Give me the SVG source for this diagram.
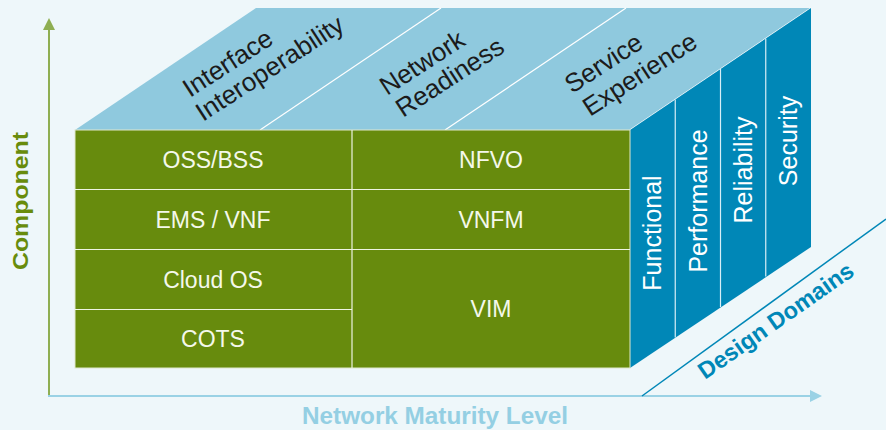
<svg xmlns="http://www.w3.org/2000/svg" width="886" height="430" viewBox="0 0 886 430">
  <defs>
    <style>
      .bg { fill: #eef7fa; }
      .front { fill: #678b0d; stroke: #dfe8cc; stroke-width: 1; }
      .cellline { stroke: #eef4e2; stroke-width: 1.2; fill: none; }
      .top { fill: #8fc9de; }
      .topline { stroke: #ffffff; stroke-width: 1.2; fill: none; }
      .side { fill: #0087b7; }
      .sideline { stroke: #d6eef7; stroke-width: 1.2; fill: none; }
      .cell { font-family: "Liberation Sans", Arial, sans-serif; font-size: 23px; fill: #f4f8ea; text-anchor: middle; }
      .dom { font-family: "Liberation Sans", Arial, sans-serif; font-size: 25px; fill: #ffffff; text-anchor: middle; }
      .pillar { font-family: "Liberation Sans", Arial, sans-serif; font-size: 26px; fill: #1b1b1b; }
      .axislbl { font-family: "Liberation Sans", Arial, sans-serif; font-weight: bold; }
    </style>
    <marker id="arrowGreen" viewBox="0 0 12 12" refX="10" refY="6" markerWidth="12" markerHeight="12" markerUnits="userSpaceOnUse" orient="auto">
      <path d="M0,0 L12,6 L0,12 Z" fill="#8eae52"/>
    </marker>
    <marker id="arrowBlue" viewBox="0 0 12 12" refX="10" refY="6" markerWidth="12" markerHeight="12" markerUnits="userSpaceOnUse" orient="auto">
      <path d="M0,0 L12,6 L0,12 Z" fill="#9ad2e5"/>
    </marker>
  </defs>

  <rect class="bg" x="0" y="0" width="886" height="430"/>

  <!-- axes -->
  <g id="axes">
    <line x1="49" y1="396" x2="49" y2="20" stroke="#8eae52" stroke-width="2" marker-end="url(#arrowGreen)"/>
    <line x1="48" y1="396" x2="820" y2="396" stroke="#9ad2e5" stroke-width="2" marker-end="url(#arrowBlue)"/>
    <line x1="642" y1="396" x2="886" y2="219" stroke="#0087b7" stroke-width="1.5"/>
  </g>

  <!-- axis titles -->
  <text class="axislbl" transform="translate(20,201) rotate(-90)" text-anchor="middle" dy="0.35em" font-size="22" fill="#688c0c" textLength="138" lengthAdjust="spacingAndGlyphs">Component</text>
  <text class="axislbl" x="435" y="424" text-anchor="middle" font-size="24" fill="#94cfe3" textLength="266" lengthAdjust="spacingAndGlyphs">Network Maturity Level</text>
  <text class="axislbl" transform="translate(705,380) rotate(-35)" font-size="23.5" fill="#0087b7">Design Domains</text>

  <!-- top face: pillars -->
  <g id="top-face">
    <polygon class="top" points="75,130 256,8 811,8 630,130"/>
    <line class="topline" x1="260" y1="130" x2="441" y2="8"/>
    <line class="topline" x1="445" y1="130" x2="626" y2="8"/>
    <line class="topline" x1="630" y1="130" x2="811" y2="8"/>
  </g>
  <g id="pillar-interface">
    <text class="pillar" transform="translate(190,98) rotate(-33)">Interface</text>
    <text class="pillar" transform="translate(203,122) rotate(-33)">Interoperability</text>
  </g>
  <g id="pillar-network">
    <text class="pillar" transform="translate(387,96) rotate(-33)">Network</text>
    <text class="pillar" transform="translate(403,118) rotate(-33)">Readiness</text>
  </g>
  <g id="pillar-service">
    <text class="pillar" transform="translate(572,94) rotate(-33)">Service</text>
    <text class="pillar" transform="translate(590,117) rotate(-33)">Experience</text>
  </g>

  <!-- right face: design domains -->
  <g id="side-face">
    <polygon class="side" points="630,130 811,8 811,247 630,368"/>
    <line class="sideline" x1="675.25" y1="99.5" x2="675.25" y2="337.5"/>
    <line class="sideline" x1="720.5" y1="69" x2="720.5" y2="307"/>
    <line class="sideline" x1="765.75" y1="38.5" x2="765.75" y2="276.5"/>
  </g>
  <g id="domain-functional"><text class="dom" transform="translate(652.5,233) rotate(-90)" dy="0.35em">Functional</text></g>
  <g id="domain-performance"><text class="dom" transform="translate(697.8,201) rotate(-90)" dy="0.35em">Performance</text></g>
  <g id="domain-reliability"><text class="dom" transform="translate(743.1,170) rotate(-90)" dy="0.35em">Reliability</text></g>
  <g id="domain-security"><text class="dom" transform="translate(788.4,141) rotate(-90)" dy="0.35em">Security</text></g>

  <!-- front face: components -->
  <g id="front-face">
    <rect class="front" x="75" y="130" width="555" height="238"/>
    <line class="cellline" x1="352" y1="130" x2="352" y2="368"/>
    <line class="cellline" x1="75" y1="189.5" x2="630" y2="189.5"/>
    <line class="cellline" x1="75" y1="249.5" x2="630" y2="249.5"/>
    <line class="cellline" x1="75" y1="309.5" x2="352" y2="309.5"/>
  </g>
  <g id="cell-oss-bss"><text class="cell" x="213" y="168">OSS/BSS</text></g>
  <g id="cell-ems-vnf"><text class="cell" x="213" y="228">EMS / VNF</text></g>
  <g id="cell-cloud-os"><text class="cell" x="213" y="288">Cloud OS</text></g>
  <g id="cell-cots"><text class="cell" x="213" y="347">COTS</text></g>
  <g id="cell-nfvo"><text class="cell" x="491" y="168">NFVO</text></g>
  <g id="cell-vnfm"><text class="cell" x="491" y="228">VNFM</text></g>
  <g id="cell-vim"><text class="cell" x="491" y="317">VIM</text></g>
</svg>
